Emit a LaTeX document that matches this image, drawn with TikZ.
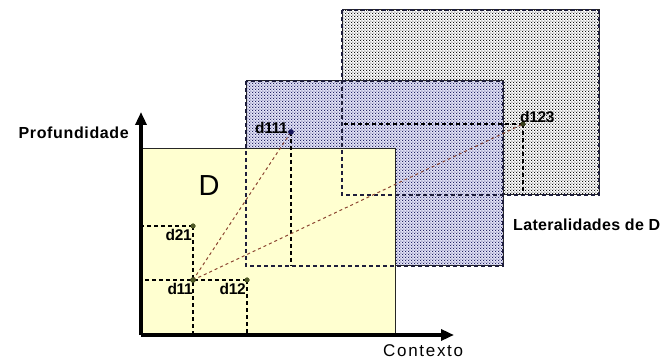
\documentclass[tikz,border=0pt]{standalone}
\usepackage{fontspec}
\setmainfont{Liberation Sans}
\usetikzlibrary{patterns,arrows.meta}
\pgfdeclarepatternformonly{mydots}{\pgfpointorigin}{\pgfqpoint{3.2pt}{3.2pt}}{\pgfqpoint{3.2pt}{3.2pt}}{%
  \pgfpathcircle{\pgfqpoint{0.8pt}{0.8pt}}{0.68pt}%
  \pgfpathcircle{\pgfqpoint{2.4pt}{2.4pt}}{0.68pt}%
  \pgfusepath{fill}}
\definecolor{yel}{RGB}{255,255,208}
\definecolor{lav}{RGB}{228,228,248}
\definecolor{ptgreen}{RGB}{80,90,40}
\definecolor{ptblue}{RGB}{20,20,90}
\definecolor{diag}{RGB}{140,70,50}
\definecolor{dashc}{RGB}{30,30,60}
\tikzset{
  x=1pt,y=-1pt,
  plane/.style={draw=black!85,line width=1pt},
  hidden/.style={draw=dashc,line width=1.1pt,dash pattern=on 4pt off 3pt},
  proj/.style={draw=black,line width=1.1pt,dash pattern=on 4pt off 3pt},
  diagline/.style={draw=diag,line width=1pt,dash pattern=on 3pt off 3pt},
  pt/.style={circle,inner sep=0pt,minimum size=5pt},
  lbl/.style={font=\bfseries\addfontfeature{LetterSpace=-2}\fontsize{15.5}{15.5}\selectfont,inner sep=0pt},
  axis/.style={line width=3.6pt,-{Triangle[length=13pt,width=11pt]}},
}
\begin{document}
\begin{tikzpicture}
\useasboundingbox (0,0) rectangle (661,363);
% back plane
\fill[white] (342,10) rectangle (599,195);
\fill[pattern=mydots,pattern color=black] (342,10) rectangle (599,195);
\draw[plane] (342,10) rectangle (599,195);
% middle plane
\fill[lav] (246,81) rectangle (503,266);
\fill[pattern=mydots,pattern color=ptblue] (246,81) rectangle (503,266);
\draw[plane] (246,81) rectangle (503,266);
% front plane
\fill[yel] (141,149) rectangle (395,335);
\draw[plane] (141,149) rectangle (395,335);
% hidden edges
\draw[hidden] (342,10) rectangle (599,195);
\draw[hidden] (246,81) rectangle (503,266);
% points
\node[pt,fill=ptgreen] (d11) at (193,280) {};
\node[pt,fill=ptgreen] (d12) at (247,280) {};
\node[pt,fill=ptgreen] (d21) at (193,226) {};
\node[pt,fill=ptblue] (d111) at (291,132) {};
\node[pt,fill=ptgreen!70!black] (d123) at (523,124) {};
% projection ends
\coordinate (d21l) at (141,226);
\coordinate (d11b) at (193,335);
\coordinate (d12l) at (141,280);
\coordinate (d12b) at (247,335);
\coordinate (d111b) at (291,266);
\coordinate (d123l) at (342,124);
\coordinate (d123b) at (523,195);
\draw[proj] (d21.center) -- (d21l);
\draw[proj] (d21.center) -- (d11b);
\draw[proj] (d12.center) -- (d12l);
\draw[proj] (d12.center) -- (d12b);
\draw[proj] (d111.center) -- (d111b);
\draw[proj] (d123.center) -- (d123l);
\draw[proj] (d123.center) -- (d123b);
% diagonals
\draw[diagline] (d11.center) -- (d111.center);
\draw[diagline] (d11.center) -- (d123.center);
% redraw points on top
\fill[ptgreen] (d11) circle (2.8pt);
\fill[ptgreen] (d12) circle (2.5pt);
\fill[ptgreen] (d21) circle (2.5pt);
\fill[ptblue] (d111) circle (2.8pt);
\fill[ptgreen!70!black] (d123) circle (2.5pt);
% axes
\coordinate (o) at (141,335);
\coordinate (ytip) at (141,112);
\coordinate (xtip) at (454,335);
\draw[axis] (o) -- (ytip);
\draw[axis] (o) -- (xtip);
% labels
\node[lbl,anchor=east] (l11) at (193,289) {d11};
\node[lbl,anchor=east] (l12) at (246,289) {d12};
\node[lbl,anchor=east] (l21) at (192,235) {d21};
\node[lbl,anchor=east] (l111) at (288,128) {d111};
\node[lbl,anchor=west] (l123) at (520,117) {d123};
\node[font=\fontsize{29}{29}\selectfont,inner sep=0pt] (D) at (209,186) {D};
\node[font=\bfseries\addfontfeature{LetterSpace=4}\fontsize{16}{16}\selectfont,inner sep=0pt,anchor=east] (prof) at (129,133) {Profundidade};
\node[font=\bfseries\addfontfeature{LetterSpace=2}\fontsize{16}{16}\selectfont,inner sep=0pt,anchor=west] (lat) at (513,225) {Lateralidades de D};
\node[font=\addfontfeature{LetterSpace=10}\fontsize{17}{17}\selectfont,inner sep=0pt,anchor=west] (ctx) at (383,351) {Contexto};
\end{tikzpicture}
\end{document}
